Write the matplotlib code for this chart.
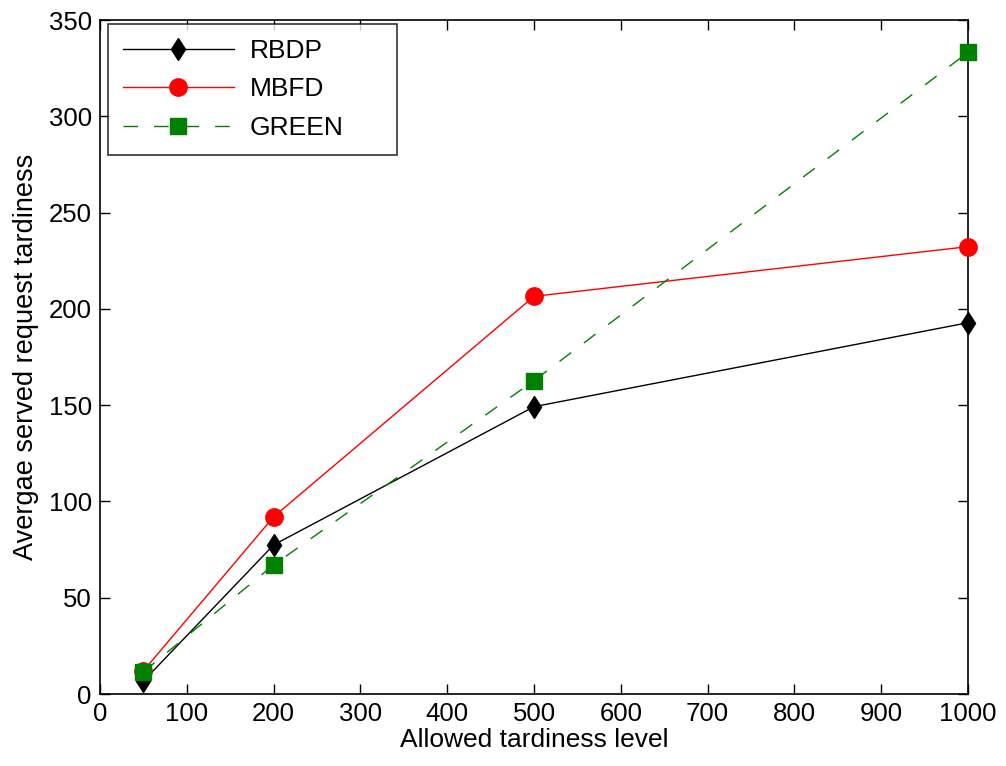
import matplotlib
matplotlib.use("Agg")
import matplotlib.pyplot as plt

x = [50, 200, 500, 1000]
rbdp = [6.7, 77.4, 149.2, 192.8]
mbfd = [12.0, 92.0, 206.5, 232.3]
green = [11.5, 67.0, 162.7, 333.2]
xticks = list(range(0, 1001, 100))
yticks = list(range(0, 351, 50))

plt.rcParams['font.family'] = ['Liberation Sans', 'DejaVu Sans']
fig = plt.figure(figsize=(10.06, 7.66), dpi=100)
ax = fig.add_axes([100/1006, 72/766, 868/1006, 674/766])

common = dict(lw=1, clip_on=False, zorder=3)
ax.plot(x, rbdp, color='black', marker='d', ms=11.5, mfc='black', mec='black', label='RBDP', **common)
ax.plot(x, mbfd, color='red', marker='o', ms=12.5, mfc='red', mec='red', label='MBFD', **common)
ax.plot(x, green, color='green', ls=(0, (10.5, 11.5)), marker='s', ms=12, mfc='green', mec='green', label='GREEN', **common)

ax.set_xlim(0, 1000)
ax.set_ylim(0, 350)
ax.set_xticks(xticks)
ax.set_yticks(yticks)
ax.tick_params(direction='in', top=True, right=True, labelsize=18.5, length=7, width=1, pad=6)
for s in ax.spines.values():
    s.set_linewidth(1.2)
ax.set_xlabel('Allowed tardiness level', fontsize=19, labelpad=1)
ax.set_ylabel('Avergae served request tardiness', fontsize=19.5, labelpad=7)

leg = ax.legend(loc='upper left', fontsize=19, frameon=True, fancybox=False, edgecolor='black',
                handlelength=4.2, handletextpad=0.6, borderpad=0.56, labelspacing=0.55,
                borderaxespad=0, mode='expand',
                bbox_to_anchor=(8/868, 0, 289/868, 1 - 4/674))
leg.get_frame().set_linewidth(1.2)

fig.savefig('out.png', dpi=100)
